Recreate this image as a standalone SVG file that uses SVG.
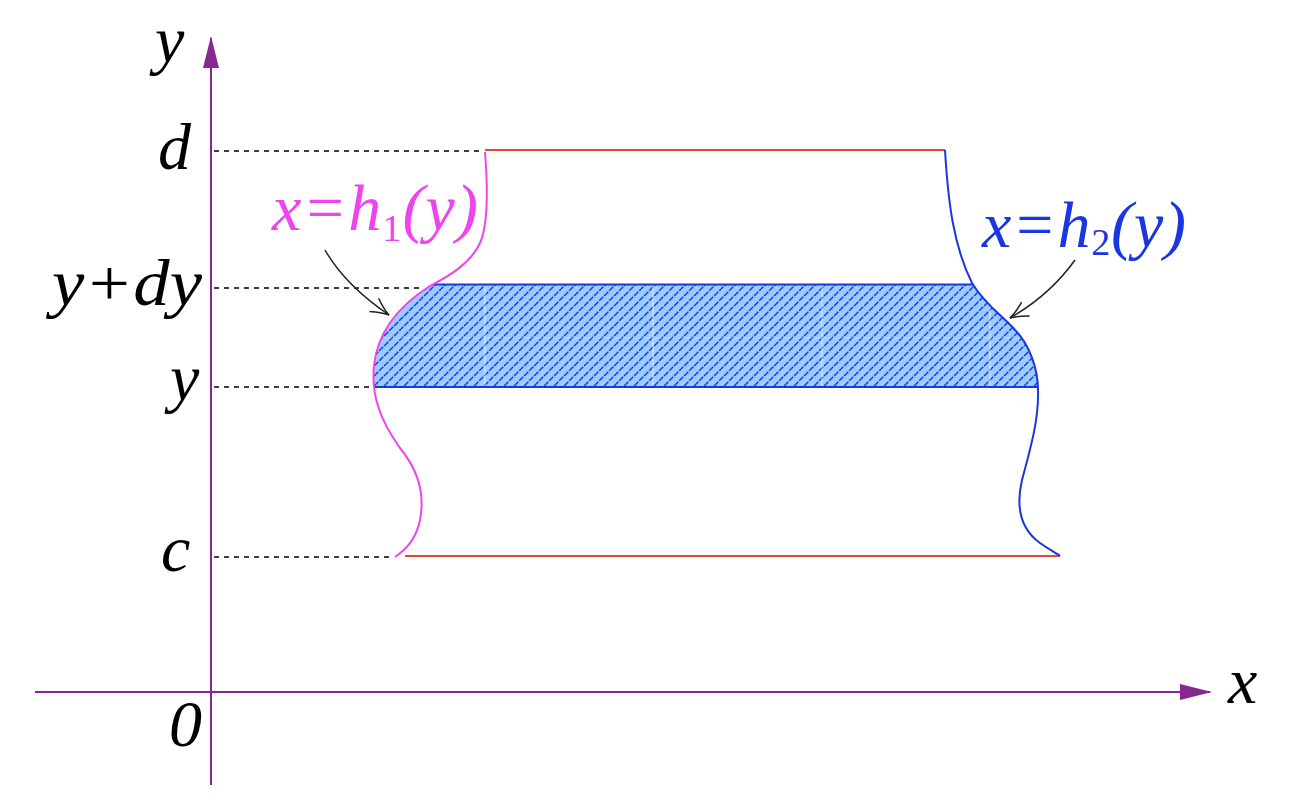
<svg xmlns="http://www.w3.org/2000/svg" width="1290" height="806" viewBox="0 0 1290 806">
<style>
.lbl{font-family:"Liberation Serif","Times New Roman",serif;font-style:italic;font-size:66px;fill:#000}
.sub{font-style:normal;font-size:38px}
.axis{stroke:#86288f;stroke-width:2;fill:none}
.dash{stroke:#000;stroke-width:1.5;stroke-dasharray:5 5;fill:none}
.red{stroke:#e8443a;stroke-width:2;fill:none}
.pt{stroke:#222;stroke-width:1.5;fill:none}
</style>
<defs>
<pattern id="hatch" patternUnits="userSpaceOnUse" width="10" height="10">
<rect width="10" height="10" fill="#99ccff"/>
<path d="M-1,11 L11,-1 M-2,2 L2,-2 M8,12 L12,8" stroke="#1a36e0" stroke-width="1.4" stroke-dasharray="6 1.2"/>
</pattern>
<clipPath id="band">
<path d="M485,100 L485,152 C488,190 488,225 480,243 C470,265 445,278 430,286 C400,305 378,330 374,365 C371,395 380,420 400,448 C418,470 425,495 420,520 C416,540 405,550 395,557 L395,600 L1060,600 L1060,556 C1056,553 1050,550 1040,543 C1022,530 1015,510 1022,480 C1030,450 1039,420 1038,390 C1038,370 1030,345 1015,330 C1005,318 985,305 972,283 C953,245 948,200 945,150 L945,100 Z"/>
</clipPath>
<marker id="axhead" markerWidth="32" markerHeight="16" refX="30" refY="8" orient="auto" markerUnits="userSpaceOnUse">
<path d="M0,0 L32,8 L0,16 Z" fill="#86288f"/>
</marker>
<marker id="open" markerWidth="24" markerHeight="20" refX="20" refY="10" orient="auto" markerUnits="userSpaceOnUse">
<path d="M2,2 Q12,8 20,10 Q12,12 2,18" fill="none" stroke="#222" stroke-width="1.5"/>
</marker>
</defs>

<g id="axes">
<line class="axis" x1="211" y1="785" x2="211" y2="38" marker-end="url(#axhead)"/>
<line class="axis" x1="35" y1="692" x2="1210" y2="692" marker-end="url(#axhead)"/>
<text class="lbl" x="155" y="62">y</text>
<text class="lbl" x="1228" y="703">x</text>
<text class="lbl" x="169" y="746" font-size="34">0</text>
</g>

<g id="guides">
<line class="dash" x1="214" y1="151" x2="484" y2="151"/>
<line class="dash" x1="214" y1="288" x2="420" y2="288"/>
<line class="dash" x1="214" y1="387" x2="372" y2="387"/>
<line class="dash" x1="214" y1="557" x2="394" y2="557"/>
<text class="lbl" x="158" y="169">d</text>
<text class="lbl" x="52" y="305" textLength="150" lengthAdjust="spacingAndGlyphs">y+dy</text>
<text class="lbl" x="170" y="400">y</text>
<text class="lbl" x="161" y="571">c</text>
</g>

<g id="strip">
<rect x="300" y="284" width="800" height="103" fill="url(#hatch)" clip-path="url(#band)"/>
<g clip-path="url(#band)" stroke="#ffffff" stroke-opacity="0.55" stroke-width="1.2">
<line x1="485" y1="285" x2="485" y2="386"/>
<line x1="653" y1="285" x2="653" y2="386"/>
<line x1="822" y1="285" x2="822" y2="386"/>
<line x1="990" y1="285" x2="990" y2="386"/>
<line x1="300" y1="338" x2="1100" y2="338" stroke-opacity="0.3"/>
</g>
<line x1="433" y1="284.5" x2="972" y2="284.5" stroke="#1a36e0" stroke-width="2"/>
<line x1="373" y1="387" x2="1038" y2="387" stroke="#1a36e0" stroke-width="2.2"/>
</g>

<g id="boundaries">
<line class="red" x1="485" y1="150" x2="945" y2="150"/>
<line class="red" x1="405" y1="556" x2="1060" y2="556"/>
<path d="M485,152 C488,190 488,225 480,243 C470,265 445,278 430,286 C400,305 378,330 374,365 C371,395 380,420 400,448 C418,470 425,495 420,520 C416,540 405,550 395,557" fill="none" stroke="#ee44ee" stroke-width="2"/>
<path d="M945,150 C948,200 953,245 972,283 C985,305 1005,318 1015,330 C1030,345 1038,370 1038,390 C1039,420 1030,450 1022,480 C1015,510 1022,530 1040,543 C1050,550 1056,553 1060,556" fill="none" stroke="#1a36e0" stroke-width="2"/>
</g>

<g id="label-h1">
<text class="lbl" x="272" y="230" style="fill:#ee44ee" textLength="206" lengthAdjust="spacing">x=h<tspan class="sub" dy="11">1</tspan><tspan dy="-11">(y)</tspan></text>
</g>
<g id="label-h2">
<text class="lbl" x="982" y="247" style="fill:#1a36e0" textLength="204" lengthAdjust="spacing">x=h<tspan class="sub" dy="8">2</tspan><tspan dy="-8">(y)</tspan></text>
</g>

<g id="connectors">
<path class="pt" d="M325,250 Q345,285 389,315" marker-end="url(#open)"/>
<path class="pt" d="M1075,260 Q1050,295 1010,318" marker-end="url(#open)"/>
</g>
</svg>
